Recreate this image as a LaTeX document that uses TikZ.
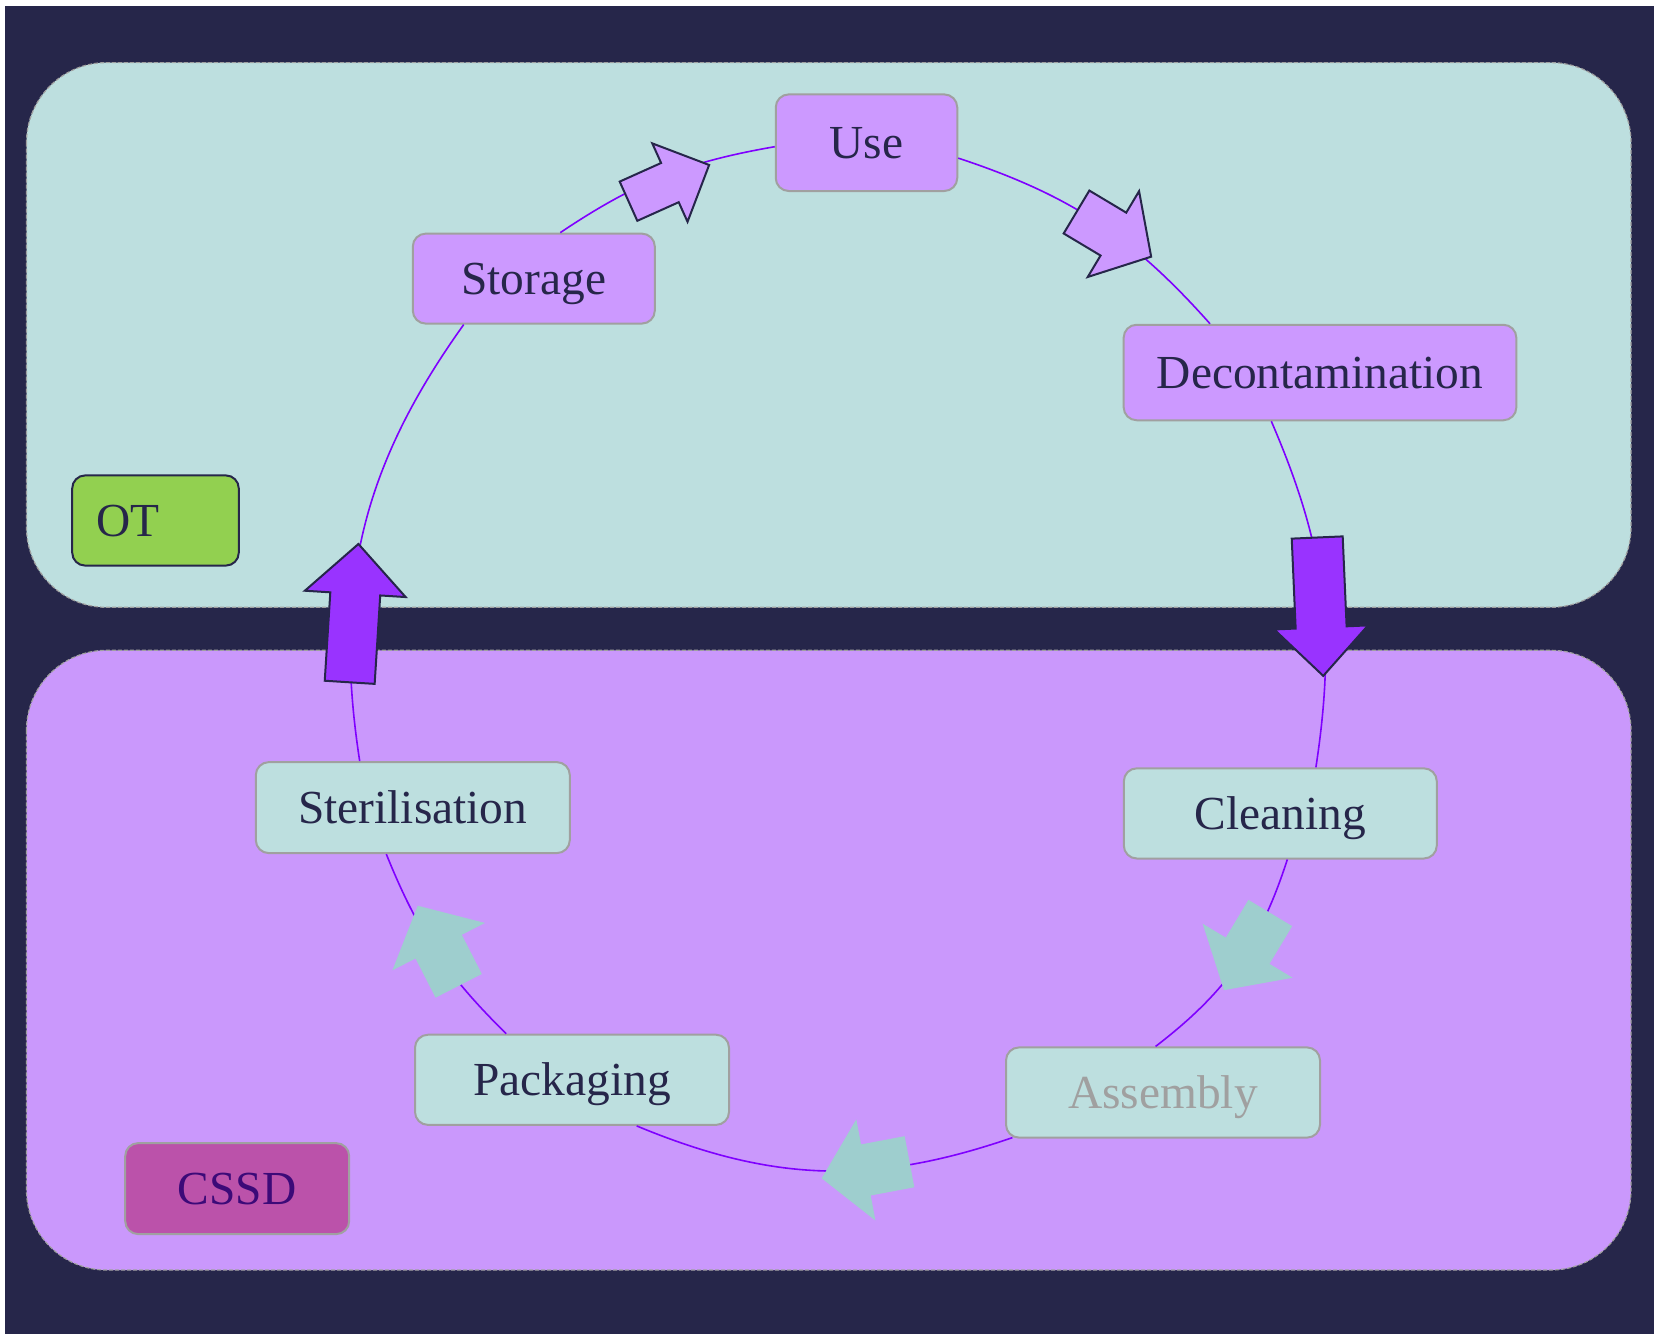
\documentclass[tikz,border=0pt]{standalone}
\usepackage{fontspec}
\setmainfont{Liberation Serif}
\definecolor{bgdark}{HTML}{26264A}
\definecolor{tealpanel}{HTML}{BDDFDF}
\definecolor{lavpanel}{HTML}{CA98FC}
\definecolor{lavnode}{HTML}{CC99FF}
\definecolor{graybd}{HTML}{A0A0A0}
\definecolor{edgeviolet}{HTML}{7F00FF}
\definecolor{arrdark}{HTML}{9933FF}
\definecolor{arrteal}{HTML}{9ECECE}
\definecolor{otgreen}{HTML}{92D050}
\definecolor{cssdfill}{HTML}{BB52AA}
\definecolor{cssdtext}{HTML}{3C0A78}
\newcommand\blockarrow[8]{%
  \begin{scope}[shift={(#1,-#2)}, rotate=#3]
    \path[#8] (0,{-(#6)/2}) -- ({#4-#5},{-(#6)/2}) -- ({#4-#5},{-(#7)/2}) -- (#4,0)
      -- ({#4-#5},{(#7)/2}) -- ({#4-#5},{(#6)/2}) -- (0,{(#6)/2}) -- cycle;
  \end{scope}}
\begin{document}
\begin{tikzpicture}[x=0.5pt,y=0.5pt,
  txt/.style={font=\fontsize{23.7pt}{28pt}\selectfont, text=bgdark, text height=15.6pt, text depth=0pt},
  box/.style={txt, draw=graybd, line width=1pt, rounded corners=6.5pt, inner sep=0pt},
  pnode/.style={box, fill=lavnode},
  tnode/.style={box, fill=tealpanel},
  panel/.style={draw=graybd, line width=0.6pt, dash pattern=on 2pt off 1pt, rounded corners=40pt},
  edge/.style={draw=edgeviolet, line width=0.8pt},
  arrA/.style={fill=lavnode, draw=bgdark, line width=1pt},
  arrB/.style={fill=arrdark, draw=bgdark, line width=1pt},
  arrC/.style={fill=arrteal}]
\useasboundingbox (0,0) rectangle (1664,-1334);
\fill[white] (0,0) rectangle (1664,-1334);
\fill[bgdark] (5,-6) rectangle (1654,-1334);
% panels
\path[panel, fill=tealpanel] (26.5,-62.6) rectangle (1631,-607.3);
\path[panel, fill=lavpanel] (26.5,-650.3) rectangle (1631,-1270);
% nodes
\node[pnode, minimum width=90.75pt, minimum height=48.3pt] (use) at (866.5,-142.7) {Use};
\node[pnode, minimum width=121pt, minimum height=45pt] (storage) at (533.8,-278.6) {Storage};
\node[pnode, minimum width=196.35pt, minimum height=47.75pt] (decon) at (1320,-372.5) {Decontamination};
\node[tnode, minimum width=156.5pt, minimum height=45.1pt] (cleaning) at (1280.3,-813.4) {Cleaning};
\node[tnode, minimum width=157pt, minimum height=45.1pt, text=graybd] (assembly) at (1163,-1092.5) {Assembly};
\node[tnode, minimum width=157pt, minimum height=45.1pt] (packaging) at (572,-1079.8) {Packaging};
\node[tnode, minimum width=157pt, minimum height=45.5pt] (steril) at (412.8,-807.6) {Sterilisation};
\node[txt, draw=bgdark, line width=1pt, fill=otgreen, rounded corners=6.5pt,
  minimum height=45.1pt, text width=58.9pt, align=left, inner xsep=12.2pt, inner ysep=0pt] (ot) at (155.5,-520.5) {OT};
\node[box, fill=cssdfill, text=cssdtext, minimum width=112pt, minimum height=45.5pt] (cssd) at (237.2,-1188.6) {CSSD};
% edges
\draw[edge] ([xshift=13.25pt]storage.north) to[bend left=12] ([yshift=-2pt]use.west);
\draw[edge] ([yshift=-7.7pt]use.east) to[bend left=15] ([xshift=-55pt]decon.north);
\draw[edge] ([xshift=-24.35pt]decon.south) to[bend left=16] ([xshift=17.8pt]cleaning.north);
\draw[edge] ([xshift=3.5pt]cleaning.south) to[bend left=17.3] ([xshift=-3.7pt]assembly.north);
\draw[edge] ([xshift=3.7pt,yshift=0.5pt]assembly.south west) to[bend left=20.8] ([xshift=32.35pt]packaging.south);
\draw[edge] ([xshift=-32.9pt]packaging.north) to[bend left=11.7] ([xshift=-13.25pt]steril.south);
\draw[edge] ([xshift=-26.55pt]steril.north) to[bend left=22.2] ([xshift=-35.05pt]storage.south);
% block arrows
\blockarrow{628.5}{201.2}{24.2}{88.4}{43}{43}{86}{arrA}
\blockarrow{1076.5}{212}{-30.9}{87}{44}{50}{100}{arrA}
\blockarrow{1317.2}{537.5}{-87.5}{138.5}{48.5}{51}{94}{arrB}
\blockarrow{1270.3}{913}{-121}{90}{46}{51}{105}{arrC}
\blockarrow{909.5}{1161.7}{190.7}{89.4}{45}{52}{103}{arrC}
\blockarrow{458.7}{985.8}{117.1}{90}{46}{52}{104}{arrC}
\blockarrow{349.7}{682.3}{86.4}{138.6}{50}{50}{101}{arrB}
\end{tikzpicture}
\end{document}
